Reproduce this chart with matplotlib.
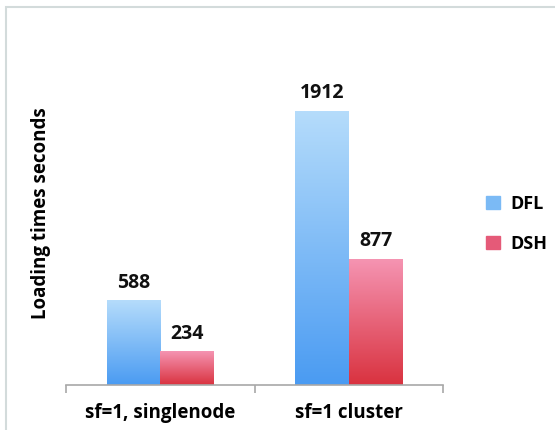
import numpy as np
import matplotlib
matplotlib.use("Agg")
import matplotlib.pyplot as plt
from matplotlib.colors import LinearSegmentedColormap
from matplotlib.patches import Rectangle

plt.rcParams['font.family'] = ['Open Sans', 'DejaVu Sans']

# Data
categories = ["sf=1, singlenode", "sf=1 cluster"]
series_names = ["DFL", "DSH"]
dfl_values = [588, 1912]
dsh_values = [234, 877]

# gradient colours (top -> bottom)
grad_colors = {
    "DFL": ("#b5dcfb", "#4a9bf2"),
    "DSH": ("#f594b2", "#d9323f"),
}
legend_colors = {"DFL": "#7bbaf5", "DSH": "#e55a78"}

fig = plt.figure(figsize=(5.55, 4.3), dpi=100)
ax = fig.add_axes([66 / 555, 1 - 385 / 430, (443 - 66) / 555, 0.80])

x = np.arange(len(categories))
width = 0.284

grad = np.linspace(0, 1, 256).reshape(-1, 1)
for i, (name, vals) in enumerate(zip(series_names, [dfl_values, dsh_values])):
    offset = (i - 0.5) * width
    bars = ax.bar(x + offset, vals, width, color='none', edgecolor='none',
                  label=name)
    cmap = LinearSegmentedColormap.from_list(name, [grad_colors[name][1],
                                                    grad_colors[name][0]])
    for b, v in zip(bars, vals):
        x0, y0 = b.get_x(), b.get_y()
        ax.imshow(grad, cmap=cmap, origin='lower', aspect='auto',
                  extent=(x0, x0 + b.get_width(), y0, y0 + b.get_height()),
                  zorder=2)
        ax.text(x0 + b.get_width() / 2, v + 55, str(v), ha='center',
                va='bottom', fontsize=14, fontweight='bold', color='#111111')

ax.set_xlim(-0.5, len(categories) - 0.5)
ax.set_ylim(0, 1912 * (0.80 * 430) / 274)

for s in ['top', 'right', 'left']:
    ax.spines[s].set_visible(False)
ax.spines['bottom'].set_color('#a8a8a8')
ax.spines['bottom'].set_linewidth(1.2)
ax.set_yticks([])
ax.set_xticks(x)
ax.set_xticklabels(categories, fontsize=13.5, fontweight='bold')
ax.tick_params(axis='x', which='major', length=0, pad=13)
ax.set_xticks(np.arange(len(categories) + 1) - 0.5, minor=True)
ax.tick_params(axis='x', which='minor', length=6, color='#a8a8a8', width=1.2)

ax.set_ylabel("Loading times seconds", fontsize=13.5, fontweight='bold', labelpad=11)

handles = [Rectangle((0, 0), 1, 1, color=legend_colors[n]) for n in series_names]
fig.legend(handles, series_names, loc='center left',
           bbox_to_anchor=(470 / 555, 1 - 224 / 430), frameon=False,
           prop={'size': 13, 'weight': 'bold'}, handlelength=0.75,
           handleheight=0.75, labelspacing=1.2, handletextpad=0.6)

# outer chart border
fig.patches.append(Rectangle((6 / 555, -0.1), 1.2, 1 - 7 / 430 + 0.1,
                             transform=fig.transFigure, fill=False,
                             edgecolor='#d3dbdb', linewidth=1.5))

fig.savefig("out.png", dpi=100)
